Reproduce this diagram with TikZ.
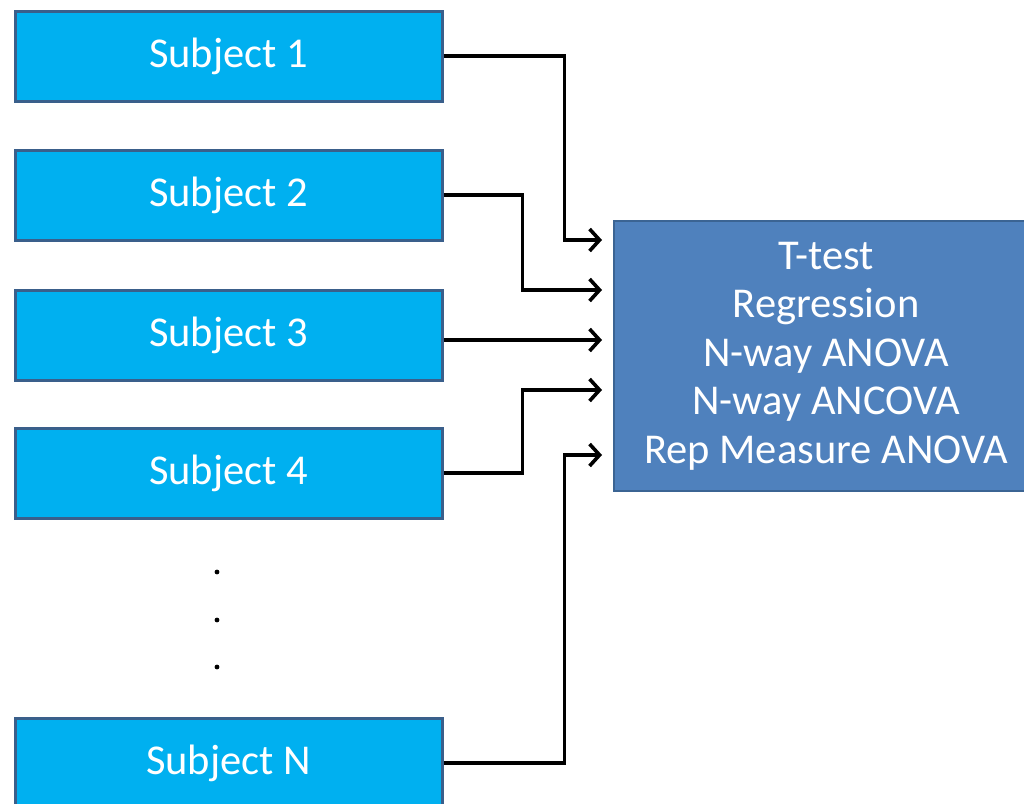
\documentclass[tikz,border=0pt]{standalone}
\usepackage{fontspec}
\setmainfont{Carlito}
\usetikzlibrary{arrows.meta}
\definecolor{subjfill}{HTML}{00B0F0}
\definecolor{subjedge}{HTML}{3A5F8B}
\definecolor{testfill}{HTML}{4F81BD}
\definecolor{testedge}{HTML}{3B6493}
\tikzset{
  subjbox/.style={draw=subjedge, line width=3pt, fill=subjfill, minimum width=427pt, minimum height=90pt, inner sep=0pt, text=white, font=\fontsize{42.5}{48}\selectfont},
  testbox/.style={draw=testedge, line width=2pt, fill=testfill, minimum width=424pt, minimum height=270pt, inner sep=0pt, text=white, align=center, font=\fontsize{42.5}{48.5}\selectfont},
  arr/.style={draw=black, line width=3.6pt, -{Straight Barb[length=10pt,width=22pt]}, line join=miter},
  dotmark/.style={fill=black, draw=none}
}
\begin{document}
\begin{tikzpicture}[x=1pt,y=-1pt]
\useasboundingbox (0,0) rectangle (1024,803);
\clip (0,0) rectangle (1024,803);
\fill[white] (0,0) rectangle (1024,803);
\node[subjbox] (s1) at (228.5,56) {Subject 1};
\node[subjbox] (s2) at (228.5,195) {Subject 2};
\node[subjbox] (s3) at (228.5,335) {Subject 3};
\node[subjbox] (s4) at (228.5,473) {Subject 4};
\node[subjbox] (sN) at (228.5,763) {Subject N};
\node[testbox] (t) at (826,356) {T-test\\Regression\\N-way ANOVA\\N-way ANCOVA\\Rep Measure ANOVA};
\coordinate (a1) at (602,240);
\coordinate (a2) at (602,290);
\coordinate (a3) at (602,340);
\coordinate (a4) at (602,390);
\coordinate (a5) at (602,455);
\draw[arr] (s1.east) -- ++(121,0) |- (a1);
\draw[arr] (s2.east) -- ++(79,0) |- (a2);
\draw[arr] ([yshift=-5pt]s3.east) -- (a3);
\draw[arr] (s4.east) -- ++(79,0) |- (a4);
\draw[arr] (sN.east) -- ++(121,0) |- (a5);
\fill[dotmark] (217,572) circle (2.4);
\fill[dotmark] (217,620) circle (2.4);
\fill[dotmark] (217,667) circle (2.4);
\end{tikzpicture}
\end{document}
